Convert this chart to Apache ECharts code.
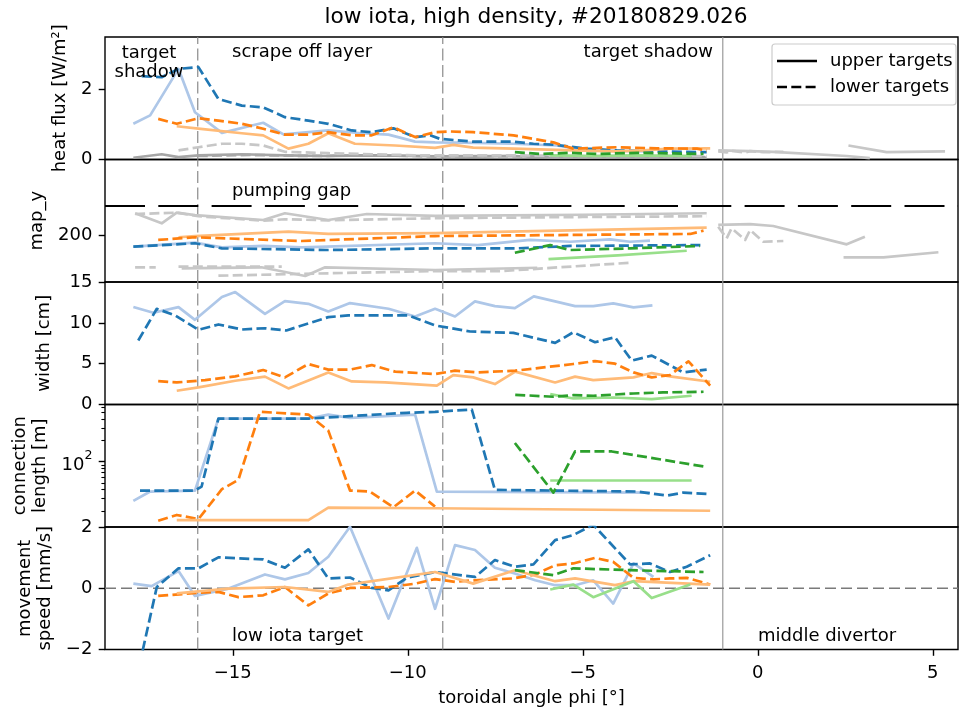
<!DOCTYPE html>
<html>
<head>
<meta charset="utf-8">
<script src="https://cdn.jsdelivr.net/npm/echarts@6/dist/echarts.min.js"></script>
<style>
html,body{margin:0;padding:0;background:#fff}
#main{width:960px;height:713px}
</style>
</head>
<body>
<div id="main"></div>
<script>
// ---------------- data ----------------
// toroidal angle phi [deg] and values per target group

// heat flux [W/m^2]
const heatUpperLightBluePhi = [-17.84,-17.36,-16.55,-16.08,-15.31,-14.13,-13.55,-12.27,-11.31,-10.55,-9.79,-9.22,-8.41,-6.98,-5.74,-4.89,-3.01];
const heatUpperLightBlue    = [1.02,1.26,2.59,1.35,0.76,1.05,0.72,0.83,0.75,0.71,0.51,0.49,0.48,0.45,0.40,0.26,0.23];
const heatLowerBluePhi = [-17.60,-17.03,-16.55,-15.98,-15.41,-14.74,-14.13,-13.51,-12.84,-12.27,-11.60,-11.03,-10.41,-9.79,-9.36,-9.08,-8.13,-6.98,-6.41,-5.79,-4.89,-4.03,-2.89,-1.46];
const heatLowerBlue    = [2.38,2.35,2.59,2.64,1.73,1.54,1.49,1.21,1.11,1.02,0.83,0.78,0.89,0.64,0.69,0.59,0.51,0.51,0.45,0.42,0.31,0.26,0.23,0.21];
const heatLowerOrangePhi = [-17.13,-16.60,-15.98,-15.41,-14.74,-14.13,-13.51,-12.84,-12.27,-11.60,-11.03,-10.41,-9.79,-9.22,-8.79,-8.13,-6.98,-5.84,-5.27,-4.03,-2.89,-1.74,-1.46];
const heatLowerOrange    = [1.16,1.02,1.18,1.11,1.02,0.88,0.71,0.71,0.78,0.69,0.69,0.92,0.64,0.78,0.80,0.78,0.69,0.49,0.31,0.35,0.32,0.31,0.25];
const heatUpperOrangePhi = [-16.60,-15.98,-14.74,-14.13,-13.41,-12.84,-12.27,-11.51,-10.36,-9.22,-8.70,-8.13,-6.98,-5.27,-4.03,-3.27,-2.51,-1.36];
const heatUpperOrange    = [0.95,0.88,0.75,0.69,0.31,0.45,0.75,0.45,0.40,0.33,0.42,0.34,0.31,0.26,0.23,0.26,0.31,0.32];
const heatLowerGreenPhi = [-6.94,-6.22,-5.36,-4.60,-3.46,-1.55];
const heatLowerGreen    = [0.21,0.16,0.19,0.16,0.19,0.16];
const heatUpperGreenPhi = [-5.93,-4.70,-3.55,-1.89];
const heatUpperGreen    = [0.12,0.10,0.12,0.10];
const heatUpperGrayPhi = [-17.84,-17.03,-16.55,-15.98,-14.74,-13.51,-12.27,-11.03,-9.79,-8.13,-6.98,-5.79,-4.03,-1.46];
const heatUpperGray    = [0.05,0.15,0.07,0.12,0.15,0.12,0.10,0.12,0.10,0.08,0.10,0.05,0.06,0.05];
const heatLowerGrayPhi = [-16.55,-15.98,-15.31,-14.74,-14.13,-13.51,-12.27,-11.03,-9.79,-8.13,-6.98,-5.27,-1.46];
const heatLowerGray    = [0.26,0.35,0.45,0.45,0.40,0.22,0.18,0.15,0.12,0.12,0.12,0.10,0.10];
const heatLowerGray2Phi = [-16.0,-14.5,-12.8,-11.0,-9.3,-7.5,-5.5,-3.5,-1.5];
const heatLowerGray2    = [0.10,0.13,0.10,0.12,0.09,0.10,0.07,0.08,0.07];
const heatUpperGrayMidPhi = [-1.13,-0.22,0.44,2.54,3.20];
const heatUpperGrayMid    = [0.26,0.24,0.22,0.10,0.04];
const heatLowerGrayMidPhi = [-1.13,-0.89,-0.75,-0.36,-0.22,0.16,0.73];
const heatLowerGrayMid    = [0.23,0.20,0.25,0.20,0.24,0.21,0.22];
const heatUpperGrayRightPhi = [2.59,3.68,5.35];
const heatUpperGrayRight    = [0.40,0.21,0.23];

// map_y
const mapUpperGrayTopPhi = [-17.79,-17.03,-16.60,-16.08,-14.13,-13.51,-12.27,-11.17,-9.22,-5.0,-1.46];
const mapUpperGrayTop    = [214.5,207.8,214.9,213.3,210.0,214.5,210.0,214.0,212.7,213.5,214.5];
const mapLowerGrayTopPhi = [-17.79,-16.60,-15.98,-14.13,-13.51,-12.27,-9.22,-5.0,-1.46];
const mapLowerGrayTop    = [214.0,214.9,212.5,209.5,210.5,209.8,211.2,212.0,212.5];
const mapUpperOrangePhi = [-16.55,-16.08,-13.41,-12.27,-9.22,-1.46];
const mapUpperOrange    = [198.5,199.3,202.2,200.7,201.3,204.9];
const mapLowerOrangePhi = [-17.13,-16.08,-13.03,-9.22,-1.93,-1.55];
const mapLowerOrange    = [196.7,198.5,196.0,199.3,200.7,202.9];
const mapUpperLightBluePhi = [-17.84,-16.08,-15.31,-14.13,-13.03,-9.22,-8.0,-6.51,-5.36,-4.22,-3.65,-3.08];
const mapUpperLightBlue    = [192.2,194.9,191.8,192.7,191.8,194.5,193.3,196.7,195.5,197.1,195.5,196.2];
const mapLowerBluePhi = [-17.84,-16.08,-15.31,-12.27,-9.22,-6.89,-5.36,-1.55];
const mapLowerBlue    = [192.2,194.5,191.1,190.0,191.1,191.1,192.7,193.3];
const mapLowerGreenPhi = [-6.94,-5.93,-5.36,-3.65,-1.65];
const mapLowerGreen    = [188.2,193.3,190.0,191.1,192.7];
const mapUpperGreenPhi = [-5.98,-4.0,-2.03];
const mapUpperGreen    = [184.0,186.5,189.5];
const mapUpperGrayLowPhi = [-16.46,-14.18,-12.93,-12.36,-9.22,-6.30];
const mapUpperGrayLow    = [177.8,178.5,172.7,178.5,176.7,178.2];
const mapLowerGrayLowPhi = [-17.79,-17.20,-16.90,-16.55,-13.60];
const mapLowerGrayLow    = [178.5,178.5,null,178.9,178.9];
const mapLowerGrayLow2Phi = [-15.41,-12.27,-9.22,-7.32,-3.65];
const mapLowerGrayLow2    = [172.9,174.5,176.0,176.0,181.5];
const mapUpperGrayMidPhi = [-1.13,-0.22,0.44,2.54,3.06];
const mapUpperGrayMid    = [206.7,207.3,206.0,193.8,198.9];
const mapLowerGrayMidPhi = [-1.13,-0.89,-0.75,-0.36,-0.22,0.16,0.73];
const mapLowerGrayMid    = [205.5,197.8,204.5,196.7,203.3,195.5,196.0];
const mapUpperGrayRightPhi = [2.45,3.59,5.16];
const mapUpperGrayRight    = [185.1,185.1,188.5];

// width [cm]
const widthUpperLightBluePhi = [-17.84,-17.27,-16.55,-16.08,-15.31,-14.93,-14.08,-13.51,-12.84,-12.27,-11.65,-10.55,-9.79,-9.22,-8.65,-8.08,-7.51,-6.94,-6.40,-5.79,-5.22,-4.70,-4.13,-3.55,-3.01];
const widthUpperLightBlue    = [11.93,11.23,11.93,10.37,13.16,13.77,11.10,12.66,12.33,11.40,12.42,11.72,10.78,11.72,10.78,12.63,12.05,11.80,13.24,12.63,12.05,12.05,12.38,11.89,12.14];
const widthLowerBluePhi = [-17.70,-17.17,-16.65,-15.98,-15.41,-14.74,-14.08,-13.47,-12.27,-11.70,-9.98,-9.22,-8.22,-6.98,-5.79,-5.27,-4.65,-4.08,-3.60,-3.03,-2.13,-1.46];
const widthLowerBlue    = [7.83,11.72,10.91,9.14,9.80,9.18,9.34,9.06,10.70,10.91,10.91,9.68,8.94,8.77,7.54,8.85,7.62,8.24,5.37,5.99,3.93,4.27];
const widthLowerOrangePhi = [-17.13,-16.60,-15.79,-14.93,-14.13,-13.51,-12.84,-12.27,-11.65,-11.03,-10.36,-9.22,-8.65,-8.03,-6.93,-5.27,-4.65,-4.08,-3.55,-3.03,-2.51,-1.98,-1.36];
const widthLowerOrange    = [2.86,2.70,2.99,3.44,4.22,3.32,4.96,4.27,4.27,4.83,4.02,3.73,4.14,3.93,4.14,4.96,5.32,5.00,3.93,3.32,3.60,5.29,2.30];
const widthUpperOrangePhi = [-16.60,-15.98,-14.93,-14.08,-13.41,-12.27,-11.60,-10.65,-9.17,-8.70,-8.13,-7.51,-6.93,-5.79,-5.22,-4.70,-3.55,-3.03,-2.51,-1.36];
const widthUpperOrange    = [1.68,2.09,2.91,3.41,1.97,3.93,2.83,2.70,2.30,3.60,3.32,2.50,4.02,2.70,3.41,2.99,3.32,3.85,3.44,2.79];
const widthLowerGreenPhi = [-6.93,-5.84,-5.27,-4.70,-3.55,-2.70,-1.55];
const widthLowerGreen    = [1.19,0.95,1.14,1.07,1.35,1.48,1.56];
const widthUpperGreenPhi = [-5.93,-5.27,-4.13,-3.03,-1.89];
const widthUpperGreen    = [1.27,0.74,0.86,0.65,1.07];

// connection length [m]
const connUpperLightBluePhi = [-17.84,-17.36,-16.08,-15.41,-12.84,-12.27,-11.65,-9.79,-9.17,-3.08];
const connUpperLightBlue    = [27.7,37.7,38.9,411,411,469,421,469,37.7,36.4];
const connLowerBluePhi = [-17.65,-16.08,-15.89,-15.41,-12.84,-10.03,-9.22,-8.17,-7.51,-3.46,-2.60,-2.13,-1.36];
const connLowerBlue    = [38.9,38.9,44.4,411,411,497,513,553,39.8,37.7,33.0,36.4,34.6];
const connLowerOrangePhi = [-17.13,-16.60,-15.98,-15.31,-14.84,-14.22,-12.84,-12.27,-11.65,-11.08,-10.41,-9.79,-9.22];
const connLowerOrange    = [14.5,17.5,15.3,40.7,55.3,513,469,277,38.9,37.7,22.5,38.9,23.0];
const connUpperOrangePhi = [-16.60,-12.84,-12.27,-9.22,-1.36];
const connUpperOrange    = [14.8,14.8,22.2,21.8,20.1];
const connLowerGreenPhi = [-6.94,-5.84,-5.22,-4.17,-1.55];
const connLowerGreen    = [185,36.4,140,140,85.7];
const connUpperGreenPhi = [-5.93,-1.89];
const connUpperGreen    = [54.1,54.1];

// movement speed [mm/s]
const speedUpperLightBluePhi = [-17.84,-17.32,-16.55,-16.08,-15.12,-14.08,-13.51,-12.84,-12.27,-11.65,-10.55,-9.74,-9.22,-8.65,-8.08,-7.51,-6.94,-6.36,-5.79,-5.22,-4.70,-4.13,-3.55,-2.98];
const speedUpperLightBlue    = [0.15,0.07,0.56,-0.25,-0.01,0.45,0.29,0.50,1.03,2.01,-0.99,1.32,-0.67,1.41,1.25,0.67,0.48,0.26,0.10,0.10,0.26,-0.50,0.81,0.37];
const speedLowerBluePhi = [-17.84,-17.17,-16.55,-15.98,-15.41,-14.13,-13.51,-12.84,-12.27,-11.65,-11.03,-10.55,-10.03,-9.22,-8.08,-7.51,-6.94,-6.41,-5.79,-5.27,-4.70,-3.65,-3.08,-2.51,-2.03,-1.36];
const speedLowerBlue    = [-3.4,0.04,0.65,0.65,1.01,0.94,0.67,1.27,0.32,0.35,0.01,-0.07,0.34,0.53,0.37,0.92,0.70,0.78,1.57,1.74,2.07,0.78,0.81,0.53,0.70,1.08];
const speedLowerOrangePhi = [-17.13,-15.98,-15.41,-14.84,-14.13,-13.51,-12.84,-12.27,-11.65,-10.55,-9.79,-9.22,-8.65,-8.13,-6.98,-6.36,-5.79,-5.27,-4.65,-4.13,-3.55,-2.98,-2.51,-2.03,-1.36];
const speedLowerOrange    = [-0.25,-0.15,-0.12,-0.29,-0.23,0.04,-0.56,-0.17,0.01,0.04,0.15,0.30,0.21,0.26,0.32,0.45,0.75,0.81,0.99,0.86,0.34,0.29,0.32,0.34,0.12];
const speedUpperOrangePhi = [-16.60,-15.12,-13.51,-12.27,-11.70,-9.22,-8.13,-6.94,-5.79,-5.22,-4.08,-3.55,-1.36];
const speedUpperOrange    = [-0.17,-0.01,0.04,-0.12,0.12,0.53,0.15,0.59,0.23,0.32,0.10,0.23,0.12];
const speedLowerGreenPhi = [-6.94,-5.84,-5.27,-3.65,-1.55];
const speedLowerGreen    = [0.59,0.43,0.65,0.59,0.53];
const speedUpperGreenPhi = [-5.93,-5.27,-4.70,-3.55,-3.03,-1.93];
const speedUpperGreen    = [-0.04,0.12,-0.29,0.23,-0.32,0.12];

// axis ticks
const phiTicks = [-15,-10,-5,0,5];
const heatTicks = [0,2];
const mapTicks = [200];
const widthTicks = [0,5,10,15];
const connTicks = [100];
const connMinorTicks = [20,30,40,50,60,70,80,90,200,300,400,500,600];
const speedTicks = [-2,0,2];

// reference positions
const sectionBounds = [-16,-9];
const divertorEdge = -1;
const pumpingGap = 219.3;
const speedZero = 0;

// ---------------- layout / style ----------------
const FONT = 'DejaVu Sans';
const FS = 18;
const PHI_MIN = -18.65, PHI_MAX = 5.72;
const TOPS = [37, 159.5, 282, 404.5, 527];
const PANEL_H = 122.5;
const TICK_LEN = 6.3, TICK_W = 1.4;

const C = {
  blue: '#1f77b4', lightBlue: '#aec7e8',
  orange: '#ff7f0e', lightOrange: '#ffbb78',
  green: '#2ca02c', lightGreen: '#98df8a',
  gray: '#a6a6a6', lightGray: '#c7c7c7'
};
const DASH = [10, 4.3];
const LW = 2.7;

const panels = [
  {name: 'heat flux [W/m²]', type: 'value', min: 0, max: 3.5, ticks: heatTicks, gap: 34},
  {name: 'map_y', type: 'value', min: 168.7, max: 250.3, ticks: mapTicks, gap: 50},
  {name: 'width [cm]', type: 'value', min: 0, max: 15, ticks: widthTicks, gap: 51},
  {name: 'connection\nlength [m]', type: 'log', min: 11.8, max: 652, ticks: connTicks, gap: 42},
  {name: 'movement\nspeed [mm/s]', type: 'value', min: -2, max: 2, ticks: speedTicks, gap: 43}
];

const traces = [
  // heat flux
  [0, heatUpperGrayPhi, heatUpperGray, C.gray, false],
  [0, heatLowerGray2Phi, heatLowerGray2, C.gray, true],
  [0, heatLowerGrayPhi, heatLowerGray, C.lightGray, true],
  [0, heatUpperGrayMidPhi, heatUpperGrayMid, C.lightGray, false],
  [0, heatLowerGrayMidPhi, heatLowerGrayMid, C.lightGray, true],
  [0, heatUpperGrayRightPhi, heatUpperGrayRight, C.lightGray, false],
  [0, heatUpperLightBluePhi, heatUpperLightBlue, C.lightBlue, false],
  [0, heatLowerBluePhi, heatLowerBlue, C.blue, true],
  [0, heatUpperOrangePhi, heatUpperOrange, C.lightOrange, false],
  [0, heatLowerOrangePhi, heatLowerOrange, C.orange, true],
  [0, heatUpperGreenPhi, heatUpperGreen, C.lightGreen, false],
  [0, heatLowerGreenPhi, heatLowerGreen, C.green, true],
  // map_y
  [1, mapUpperGrayTopPhi, mapUpperGrayTop, C.lightGray, false],
  [1, mapLowerGrayTopPhi, mapLowerGrayTop, C.lightGray, true],
  [1, mapUpperGrayLowPhi, mapUpperGrayLow, C.lightGray, false],
  [1, mapLowerGrayLowPhi, mapLowerGrayLow, C.lightGray, true],
  [1, mapLowerGrayLow2Phi, mapLowerGrayLow2, C.lightGray, true],
  [1, mapUpperGrayMidPhi, mapUpperGrayMid, C.lightGray, false],
  [1, mapLowerGrayMidPhi, mapLowerGrayMid, C.lightGray, true],
  [1, mapUpperGrayRightPhi, mapUpperGrayRight, C.lightGray, false],
  [1, mapUpperLightBluePhi, mapUpperLightBlue, C.lightBlue, false],
  [1, mapLowerBluePhi, mapLowerBlue, C.blue, true],
  [1, mapUpperOrangePhi, mapUpperOrange, C.lightOrange, false],
  [1, mapLowerOrangePhi, mapLowerOrange, C.orange, true],
  [1, mapUpperGreenPhi, mapUpperGreen, C.lightGreen, false],
  [1, mapLowerGreenPhi, mapLowerGreen, C.green, true],
  // width
  [2, widthUpperLightBluePhi, widthUpperLightBlue, C.lightBlue, false],
  [2, widthLowerBluePhi, widthLowerBlue, C.blue, true],
  [2, widthUpperOrangePhi, widthUpperOrange, C.lightOrange, false],
  [2, widthLowerOrangePhi, widthLowerOrange, C.orange, true],
  [2, widthUpperGreenPhi, widthUpperGreen, C.lightGreen, false],
  [2, widthLowerGreenPhi, widthLowerGreen, C.green, true],
  // connection length
  [3, connUpperLightBluePhi, connUpperLightBlue, C.lightBlue, false],
  [3, connLowerBluePhi, connLowerBlue, C.blue, true],
  [3, connLowerOrangePhi, connLowerOrange, C.orange, true],
  [3, connUpperOrangePhi, connUpperOrange, C.lightOrange, false],
  [3, connUpperGreenPhi, connUpperGreen, C.lightGreen, false],
  [3, connLowerGreenPhi, connLowerGreen, C.green, true],
  // movement speed
  [4, speedUpperLightBluePhi, speedUpperLightBlue, C.lightBlue, false],
  [4, speedLowerBluePhi, speedLowerBlue, C.blue, true],
  [4, speedLowerOrangePhi, speedLowerOrange, C.orange, true],
  [4, speedUpperOrangePhi, speedUpperOrange, C.lightOrange, false],
  [4, speedUpperGreenPhi, speedUpperGreen, C.lightGreen, false],
  [4, speedLowerGreenPhi, speedLowerGreen, C.green, true]
];

const minus = v => String(v).replace('-', '\u2212');

const grids = TOPS.map(t => ({
  left: 105, right: 2, top: t, height: PANEL_H,
  show: true, borderColor: '#000', borderWidth: TICK_W, backgroundColor: 'transparent'
}));

const xAxes = TOPS.map((t, i) => {
  const last = i === TOPS.length - 1;
  return {
    gridIndex: i, type: 'value', min: PHI_MIN, max: PHI_MAX, position: 'bottom',
    axisLine: {show: false, onZero: false}, splitLine: {show: false},
    axisTick: {show: last, customValues: phiTicks, length: TICK_LEN, lineStyle: {color: '#000', width: TICK_W}},
    axisLabel: {show: last, customValues: phiTicks, formatter: minus, color: '#000', fontFamily: FONT, fontSize: FS, margin: 15},
    name: last ? 'toroidal angle phi [°]' : '', nameLocation: 'middle', nameGap: 40,
    nameTextStyle: {color: '#000', fontFamily: FONT, fontSize: FS}
  };
});

const yAxes = panels.map((p, i) => ({
  gridIndex: i, type: p.type, min: p.min, max: p.max, logBase: 10, position: 'left',
  axisLine: {show: false, onZero: false}, splitLine: {show: false},
  axisTick: {show: true, customValues: p.ticks, length: TICK_LEN, lineStyle: {color: '#000', width: TICK_W}},
  axisLabel: {
    customValues: p.ticks, color: '#000', fontFamily: FONT, fontSize: FS, margin: 12.6,
    formatter: p.type === 'log'
      ? (v => '{b|10}{s|' + Math.round(Math.log10(v)) + '}')
      : minus,
    rich: {
      b: {fontFamily: FONT, fontSize: FS, color: '#000', verticalAlign: 'bottom', lineHeight: 26},
      s: {fontFamily: FONT, fontSize: 12.6, color: '#000', verticalAlign: 'top', lineHeight: 26}
    }
  },
  name: p.name, nameLocation: 'middle', nameRotate: 90, nameGap: p.gap,
  nameTextStyle: {color: '#000', fontFamily: FONT, fontSize: FS, lineHeight: 20, align: 'center'}
}));
// minor ticks for the logarithmic connection length axis
yAxes.push({
  gridIndex: 3, type: 'log', logBase: 10, min: panels[3].min, max: panels[3].max, position: 'left',
  axisLine: {show: false, onZero: false}, splitLine: {show: false}, axisLabel: {show: false},
  axisTick: {show: true, customValues: connMinorTicks, length: 3.6, lineStyle: {color: '#000', width: 1.1}}
});

const series = [];
const seg = (i, pts, color, width, type, z) => series.push({
  type: 'line', xAxisIndex: i, yAxisIndex: i, data: pts, symbol: 'none', silent: true,
  animation: false, z: z, lineStyle: {color, width, type}
});

// section boundaries in every panel
panels.forEach((p, i) => {
  sectionBounds.forEach(b => seg(i, [[b, p.min], [b, p.max]], '#8a8a8a', 1.2, [12, 4.5], 1));
  seg(i, [[divertorEdge, p.min], [divertorEdge, p.max]], '#9a9a9a', 1.2, 'solid', 1);
});
seg(1, [[PHI_MIN, pumpingGap], [PHI_MAX, pumpingGap]], '#000', 2, [40, 13.3], 1);
seg(4, [[PHI_MIN, speedZero], [PHI_MAX, speedZero]], '#7a7a7a', 1.4, [11, 5], 1);

traces.forEach(([i, phi, val, color, dashed]) => {
  series.push({
    type: 'line', xAxisIndex: i, yAxisIndex: i, symbol: 'none', silent: true, animation: false,
    connectNulls: false, z: 2,
    data: phi.map((p, k) => [p, val[k] === null ? '-' : val[k]]),
    lineStyle: {color, width: LW, type: dashed ? DASH : 'solid', cap: 'butt', join: 'round'}
  });
});

const txt = (text, x, y, align) => ({
  type: 'text', z: 100, silent: true,
  style: {text, x, y, fill: '#000', font: FS + 'px "' + FONT + '"', align: align || 'left', verticalAlign: 'middle'}
});

const graphic = [
  {type: 'text', z: 100, silent: true,
   style: {text: 'low iota, high density, #20180829.026', x: 536, y: 17, fill: '#000',
           font: '21.7px "' + FONT + '"', align: 'center', verticalAlign: 'middle'}},
  txt('target', 149, 53, 'center'),
  txt('shadow', 149, 72, 'center'),
  txt('scrape off layer', 232, 52),
  txt('target shadow', 713, 52, 'right'),
  txt('pumping gap', 232, 191),
  txt('low iota target', 232, 636),
  txt('middle divertor', 758, 636),
  // legend
  {type: 'rect', z: 99, silent: true, shape: {x: 772, y: 44, width: 184, height: 61, r: 3},
   style: {fill: 'rgba(255,255,255,0.8)', stroke: '#cccccc', lineWidth: 1.2}},
  {type: 'line', z: 100, silent: true, shape: {x1: 777, y1: 61, x2: 817, y2: 61},
   style: {stroke: '#000', lineWidth: LW}},
  {type: 'line', z: 100, silent: true, shape: {x1: 777, y1: 87, x2: 817, y2: 87},
   style: {stroke: '#000', lineWidth: LW, lineDash: DASH}},
  txt('upper targets', 830, 61),
  txt('lower targets', 830, 87)
];

const chart = echarts.init(document.getElementById('main'), null, {renderer: 'canvas'});
chart.setOption({
  animation: false,
  backgroundColor: '#fff',
  textStyle: {fontFamily: FONT},
  grid: grids, xAxis: xAxes, yAxis: yAxes, series, graphic
});
</script>
</body>
</html>
